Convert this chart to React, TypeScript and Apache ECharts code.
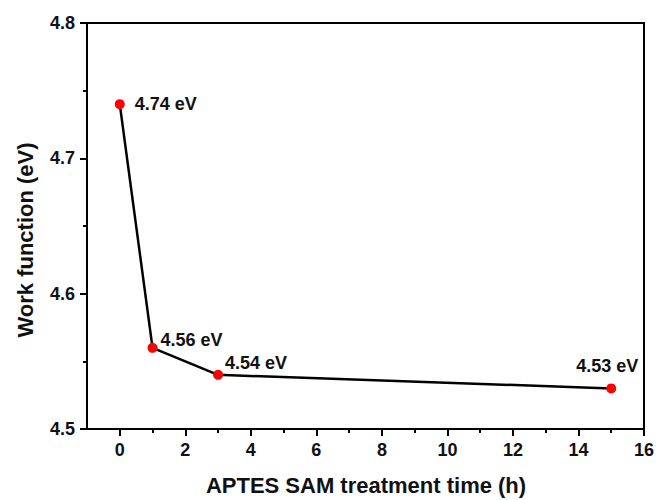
import React, { useEffect, useRef } from "react";
import * as echarts from "echarts";

const times = [0, 1, 3, 15];
const workFunction = [4.74, 4.56, 4.54, 4.53];
const pointLabels = ["4.74 eV", "4.56 eV", "4.54 eV", "4.53 eV"];
const xMajorTicks = [0, 2, 4, 6, 8, 10, 12, 14, 16];
const xMinorTicks = [1, 3, 5, 7, 9, 11, 13, 15];
const xTitle = "APTES SAM treatment time (h)";
const yTitle = "Work function (eV)";

const FONT = "'Liberation Sans', Arial, sans-serif";

const labelCfg = [
  { position: "right", distance: 10, offset: [0, 0] },
  { position: "right", distance: 3, offset: [0, -8] },
  { position: "right", distance: 2, offset: [0, -12] },
  { position: "top", distance: 8, offset: [-4, 0] },
];

export default function App() {
  const ref = useRef<HTMLDivElement>(null);
  useEffect(() => {
    if (!ref.current) return;
    const chart = echarts.init(ref.current, undefined, { renderer: "svg" });
    const data = times.map((t, i) => ({
      value: [t, workFunction[i]],
      label: {
        show: true,
        formatter: pointLabels[i],
        position: labelCfg[i].position,
        distance: labelCfg[i].distance,
        offset: labelCfg[i].offset,
        color: "#111",
        fontWeight: "bold",
        fontSize: 18,
        fontFamily: FONT,
      },
    }));
    chart.setOption({
      animation: false,
      backgroundColor: "#fff",
      grid: {
        left: 87,
        right: 13,
        top: 23,
        bottom: 71,
        show: true,
        borderColor: "#000",
        borderWidth: 2,
      },
      graphic: [
        {
          type: "text",
          x: 25,
          y: 240,
          rotation: Math.PI / 2,
          style: {
            text: yTitle,
            align: "center",
            verticalAlign: "middle",
            fill: "#111",
            fontWeight: "bold",
            fontSize: 22,
            fontFamily: FONT,
          },
        },
        {
          type: "text",
          x: 366,
          y: 485,
          style: {
            text: xTitle,
            align: "center",
            verticalAlign: "middle",
            fill: "#111",
            fontWeight: "bold",
            fontSize: 22,
            fontFamily: FONT,
          },
        },
      ],
      xAxis: [
        {
          type: "value",
          min: -1,
          max: 16,
          position: "bottom",
          splitLine: { show: false },
          axisLine: { show: true, onZero: false, lineStyle: { color: "#000", width: 2 } },
          axisTick: {
            show: true,
            customValues: xMajorTicks,
            length: 7,
            lineStyle: { color: "#000", width: 2 },
          },
          axisLabel: {
            customValues: xMajorTicks,
            color: "#111",
            fontWeight: "bold",
            fontSize: 18,
            fontFamily: FONT,
            margin: 12,
          },
        },
        {
          type: "value",
          min: -1,
          max: 16,
          position: "bottom",
          splitLine: { show: false },
          axisLine: { show: false, onZero: false },
          axisTick: {
            show: true,
            customValues: xMinorTicks,
            length: 4,
            lineStyle: { color: "#000", width: 2 },
          },
          axisLabel: { show: false },
        },
      ],
      yAxis: {
        type: "value",
        min: 4.5,
        max: 4.8,
        interval: 0.1,
        splitLine: { show: false },
        axisLine: { show: true, onZero: false, lineStyle: { color: "#000", width: 2 } },
        axisTick: { show: true, length: 7, lineStyle: { color: "#000", width: 2 } },
        minorTick: { show: true, splitNumber: 2, length: 4, lineStyle: { color: "#000", width: 2 } },
        axisLabel: {
          formatter: (v: number) => v.toFixed(1),
          color: "#111",
          fontWeight: "bold",
          fontSize: 18,
          fontFamily: FONT,
          margin: 12,
        },
      },
      series: [
        {
          type: "line",
          xAxisIndex: 0,
          data,
          symbol: "circle",
          symbolSize: 10,
          itemStyle: { color: "#ff0000" },
          lineStyle: { color: "#000", width: 2.5 },
          z: 3,
        },
      ],
    });
    return () => chart.dispose();
  }, []);
  return (
    <div
      ref={ref}
      style={{ position: "fixed", left: 0, top: 0, width: 657, height: 500 }}
    />
  );
}
